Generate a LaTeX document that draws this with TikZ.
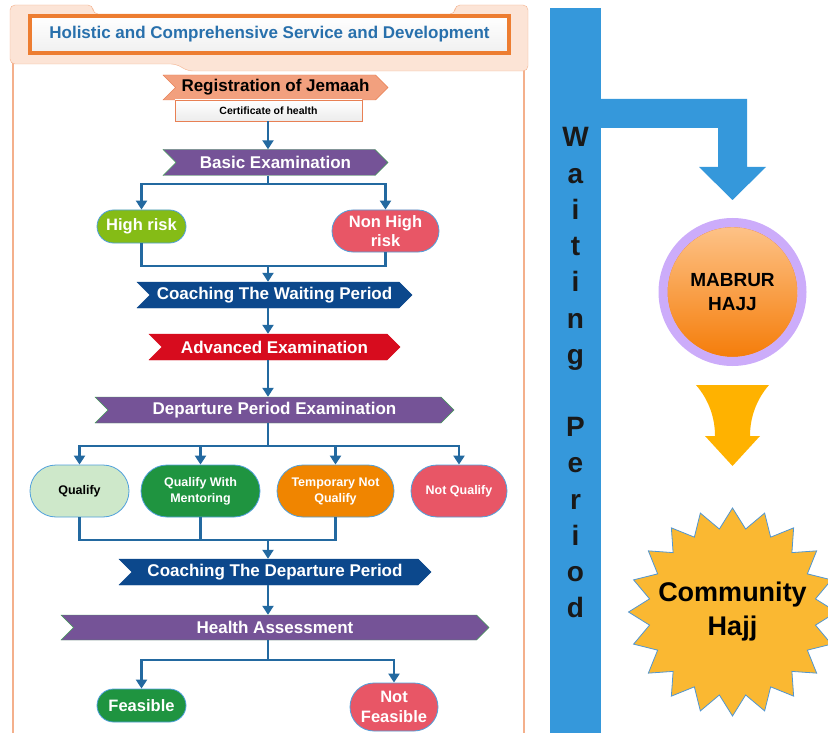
\documentclass[tikz,border=0pt]{standalone}
\usepackage{fontspec}
\setmainfont{Liberation Sans}
\usetikzlibrary{arrows.meta,positioning,shapes.symbols,shapes.misc}

\definecolor{flowblue}{RGB}{35,105,160}
\definecolor{pillline}{RGB}{80,160,220}
\definecolor{panelfill}{RGB}{252,228,214}
\definecolor{panelline}{RGB}{244,176,140}
\definecolor{headorange}{RGB}{237,125,49}
\definecolor{titleblue}{RGB}{40,112,172}
\definecolor{regfill}{RGB}{242,160,126}
\definecolor{regline}{RGB}{232,128,84}
\definecolor{exampurple}{RGB}{117,83,151}
\definecolor{examline}{RGB}{70,160,90}
\definecolor{coachblue}{RGB}{12,72,140}
\definecolor{advred}{RGB}{215,12,30}
\definecolor{riskgreen}{RGB}{133,188,22}
\definecolor{nogored}{RGB}{232,86,102}
\definecolor{okgreen}{RGB}{31,148,64}
\definecolor{lightok}{RGB}{206,232,202}
\definecolor{tempor}{RGB}{240,133,0}
\definecolor{barblue}{RGB}{53,152,219}
\definecolor{mabtop}{RGB}{253,194,135}
\definecolor{mabbot}{RGB}{245,125,10}
\definecolor{mabline}{RGB}{240,130,40}
\definecolor{ringlav}{RGB}{204,172,250}
\definecolor{gold}{RGB}{255,178,0}
\definecolor{starfill}{RGB}{250,184,50}
\definecolor{starline}{RGB}{80,150,210}

\tikzset{
  banner/.style={signal, signal from=west, signal to=east, signal pointer angle=90,
    fill=#1, draw=#1, text=white, inner sep=0pt, minimum height=26pt,
    font=\bfseries\fontsize{17}{20}\selectfont},
  pill/.style={rounded rectangle, fill=#1, draw=pillline, line width=0.8pt,
    text=white, align=center, inner sep=0pt,
    font=\bfseries\fontsize{16.5}{19}\selectfont},
  small/.style={font=\bfseries\fontsize{12.5}{16}\selectfont},
  flow/.style={draw=flowblue, line width=2.2pt, -{Triangle[width=11pt,length=9pt]}},
  joinline/.style={draw=flowblue, line width=2.2pt},
  letter/.style={anchor=base, inner sep=0pt, text=black!90,
    font=\bfseries\fontsize{28}{30}\selectfont}
}

\begin{document}
\begin{tikzpicture}[x=1pt,y=1pt]
  \useasboundingbox (0,0) rectangle (828,-733);

  % left panel with its tabbed header
  \draw[panelline, line width=1.5pt, fill=white] (13,-60) rectangle (524,-745);
  \draw[panelline, fill=panelfill, rounded corners=5pt]
    (10,-64) -- (10,-5) -- (93,-5) -- (93,-14) -- (455,-14) -- (455,-5)
    -- (528,-5) -- (528,-71) -- (188,-71) -- (176,-64) -- cycle;
  \node (title) at (269.5,-34.5) [draw=headorange, line width=4pt, top color=white,
    bottom color=gray!12, minimum width=479pt, minimum height=37pt, inner sep=0pt,
    text=titleblue, font=\bfseries\fontsize{17}{20}\selectfont]
    {Holistic and Comprehensive Service and Development};

  \coordinate (axis) at (268,0);

  \node[banner=regfill, draw=regline, text=black, minimum width=225pt, minimum height=25pt]
    (reg) at (275.5,-87.5) {Registration of Jemaah};
  \node[draw=regline, top color=white, bottom color=gray!15, minimum width=187pt,
    minimum height=21pt, inner sep=0pt, font=\bfseries\fontsize{10.5}{12}\selectfont]
    (cert) at (268.5,-110.5) {Certificate of health};

  \node[banner=exampurple, draw=examline, minimum width=225pt] (basic) at (275.5,-162.5) {Basic Examination};
  \node[pill=riskgreen, minimum width=89pt, minimum height=33pt] (hr) at (141.5,-226.5) {High risk};
  \node[pill=nogored, minimum width=107pt, minimum height=42pt] (nhr) at (385.5,-231) {Non High\\risk};

  \node[banner=coachblue, minimum width=275pt] (cwp) at (274.5,-295) {Coaching The Waiting Period};
  \node[banner=advred, minimum width=251pt] (adv) at (274.5,-347) {Advanced Examination};
  \node[banner=exampurple, draw=examline, minimum width=359pt] (dpe) at (274.5,-410) {Departure Period Examination};

  \node[pill=lightok, text=black, small, minimum width=99pt, minimum height=52pt] (q1) at (79.5,-491) {Qualify};
  \node[pill=okgreen, small, minimum width=119pt, minimum height=52pt] (q2) at (200.5,-491) {Qualify With\\Mentoring};
  \node[pill=tempor, small, minimum width=117pt, minimum height=52pt] (q3) at (335.5,-491) {Temporary Not\\Qualify};
  \node[pill=nogored, small, minimum width=96pt, minimum height=52pt] (q4) at (459,-491) {Not Qualify};

  \node[banner=coachblue, minimum width=312pt] (cdp) at (275,-572) {Coaching The Departure Period};
  \node[banner=exampurple, draw=examline, minimum width=428pt, minimum height=25pt] (ha) at (275,-627.5) {Health Assessment};
  \node[pill=okgreen, minimum width=89pt, minimum height=33pt] (fe) at (141.5,-705.5) {Feasible};
  \node[pill=nogored, minimum width=88pt, minimum height=48pt, font=\bfseries\fontsize{16.5}{20}\selectfont]
    (nf) at (394,-707) {Not\\Feasible};

  % connectors
  \draw[flow] (cert.south -| axis) -- (axis |- basic.north);
  \draw[flow] (axis |- basic.south) -- ++(0,-8) -| (hr);
  \draw[flow] (axis |- basic.south) -- ++(0,-8) -| (nhr);
  \coordinate (wj) at (268,-266);
  \draw[joinline] (hr) |- (wj) -| (nhr);
  \draw[flow] (wj) -- (axis |- cwp.north);
  \draw[flow] (axis |- cwp.south) -- (axis |- adv.north);
  \draw[flow] (axis |- adv.south) -- (axis |- dpe.north);
  \foreach \q in {q1,q2,q3,q4}
    \draw[flow] (axis |- dpe.south) -- ++(0,-23) -| (\q);
  \coordinate (qj) at (268,-540);
  \draw[joinline] (q1) |- (qj) -| (q3);
  \draw[joinline] (q2) -- (q2 |- qj);
  \draw[flow] (qj) -- (axis |- cdp.north);
  \draw[flow] (axis |- cdp.south) -- (axis |- ha.north);
  \draw[flow] (axis |- ha.south) -- ++(0,-20) -| (fe);
  \draw[flow] (axis |- ha.south) -- ++(0,-20) -| (nf);

  % waiting period bar and its bent arrow
  \fill[barblue] (550,-8) rectangle (601,-745);
  \fill[barblue] (601,-99) -- (747,-99) -- (747,-167) -- (766,-167) -- (732.5,-200)
    -- (699,-167) -- (718,-167) -- (718,-128) -- (601,-128) -- cycle;
  \foreach \ch [count=\i from 0] in {W,a,i,t,i,n,g}
    \node[letter] (w\i) at (575.5,-147-36.2*\i) {\ch};
  \foreach \ch [count=\i from 0] in {P,e,r,i,o,d}
    \node[letter] (p\i) at (575.5,-436.6-36.2*\i) {\ch};

  \node (mabrur) at (732.5,-292) [circle, minimum size=130pt, inner sep=0pt,
    top color=mabtop, bottom color=mabbot, draw=mabline, align=center,
    font=\bfseries\fontsize{19}{24}\selectfont] {MABRUR\\HAJJ};
  \draw[ringlav, line width=9pt] (mabrur.center) circle[radius=69.5pt];

  \fill[gold] (696,-385) -- (769,-385) .. controls (756,-400) and (750,-418) .. (750,-436)
    -- (760,-436) -- (732.5,-466) -- (705,-436) -- (715,-436)
    .. controls (715,-418) and (709,-400) .. (696,-385) -- cycle;

  % twenty-pointed star behind the last label
  \coordinate (hc) at (732.5,-612);
  \filldraw[fill=starfill, draw=starline, line width=0.8pt, shift={(hc)}]
    (90:104pt) \foreach \k in {1,...,39} { -- ({90+9*\k}:{ifthenelse(mod(\k,2)==0,104,84)*1pt}) } -- cycle;
  \node (hajj) at (hc) [align=center, font=\bfseries\fontsize{27}{34}\selectfont] {Community\\Hajj};
\end{tikzpicture}
\end{document}
